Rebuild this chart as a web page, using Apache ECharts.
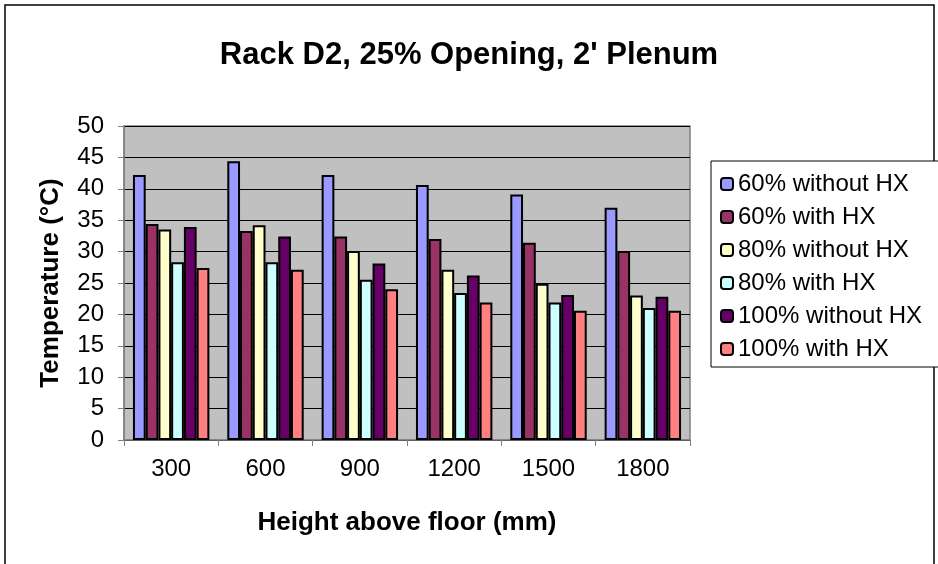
<!DOCTYPE html>
<html>
<head>
<meta charset="utf-8">
<script src="https://cdn.jsdelivr.net/npm/echarts@6/dist/echarts.min.js"></script>
<style>
  html, body { margin: 0; padding: 0; background: #fff; }
  #main { width: 938px; height: 564px; }
</style>
</head>
<body>
<div id="main"></div>
<script>
// heights (mm) on the x axis
var heights = ['300', '600', '900', '1200', '1500', '1800'];
var seriesNames = ['60% without HX', '60% with HX', '80% without HX', '80% with HX', '100% without HX', '100% with HX'];
var seriesColors = ['#9999FF', '#993366', '#FFFFCC', '#CCFFFF', '#660066', '#FF8080'];

// temperatures
var t60NoHx = [42.2, 44.4, 42.2, 40.6, 39.1, 37.0];
var t60Hx = [34.4, 33.3, 32.4, 32.0, 31.4, 30.1];
var t80NoHx = [33.5, 34.2, 30.1, 27.1, 24.9, 23.0];
var t80Hx = [28.3, 28.3, 25.5, 23.4, 21.9, 21.0];
var t100NoHx = [33.9, 32.4, 28.1, 26.2, 23.1, 22.8];
var t100Hx = [27.4, 27.1, 24.0, 21.9, 20.6, 20.6];
var allData = [t60NoHx, t60Hx, t80NoHx, t80Hx, t100NoHx, t100Hx];

var font = 'Liberation Sans, Arial, sans-serif';

var chart = echarts.init(document.getElementById('main'));

var series = seriesNames.map(function (name, i) {
    return {
        name: name,
        type: 'bar',
        data: allData[i],
        barGap: '0%',
        barCategoryGap: '19%',
        itemStyle: { color: seriesColors[i], borderColor: '#000', borderWidth: 2 },
        emphasis: { disabled: true }
    };
});

chart.setOption({
    animation: false,
    backgroundColor: '#fff',
    title: {
        text: "Rack D2, 25% Opening, 2' Plenum",
        left: 'center',
        top: 35,
        textStyle: { fontFamily: font, fontSize: 31, fontWeight: 'bold', color: '#000' }
    },
    graphic: [
        { type: 'rect', shape: { x: 5, y: 5, width: 929, height: 570 }, style: { fill: 'none', stroke: '#000', lineWidth: 1.5 }, z: -1 },
        { type: 'rect', shape: { x: 711, y: 161, width: 235, height: 206 }, style: { fill: '#fff', stroke: '#000', lineWidth: 1 }, z: 0 }
    ],
    legend: {
        orient: 'vertical',
        left: 714,
        top: 164,
        padding: [8, 2, 4, 6],
        itemWidth: 12,
        itemHeight: 12,
        itemGap: 9,
        textStyle: { fontFamily: font, fontSize: 24, color: '#000', lineHeight: 24 },
        data: seriesNames,
        z: 5
    },
    grid: {
        left: 124,
        right: 248,
        top: 126,
        bottom: 124,
        show: true,
        backgroundColor: '#C0C0C0',
        borderColor: '#808080',
        borderWidth: 1.5
    },
    xAxis: {
        type: 'category',
        data: heights,
        name: 'Height above floor (mm)',
        nameLocation: 'middle',
        nameGap: 70,
        nameTextStyle: { fontFamily: font, fontSize: 26, fontWeight: 'bold', color: '#000', verticalAlign: 'top' },
        axisLine: { lineStyle: { color: '#808080', width: 1.5 } },
        axisTick: { show: true, length: 6, lineStyle: { color: '#808080' } },
        axisLabel: { fontFamily: font, fontSize: 24, color: '#000', margin: 17 }
    },
    yAxis: {
        type: 'value',
        min: 0,
        max: 50,
        interval: 5,
        name: 'Temperature (°C)',
        nameLocation: 'middle',
        nameGap: 60,
        nameTextStyle: { fontFamily: font, fontSize: 26, fontWeight: 'bold', color: '#000' },
        axisLine: { show: true, lineStyle: { color: '#808080', width: 1.5 } },
        axisTick: { show: true, length: 6, lineStyle: { color: '#808080' } },
        axisLabel: { fontFamily: font, fontSize: 24, color: '#000', margin: 20 },
        splitLine: { lineStyle: { color: '#000', width: 1.2 } }
    },
    series: series
});
</script>
</body>
</html>
